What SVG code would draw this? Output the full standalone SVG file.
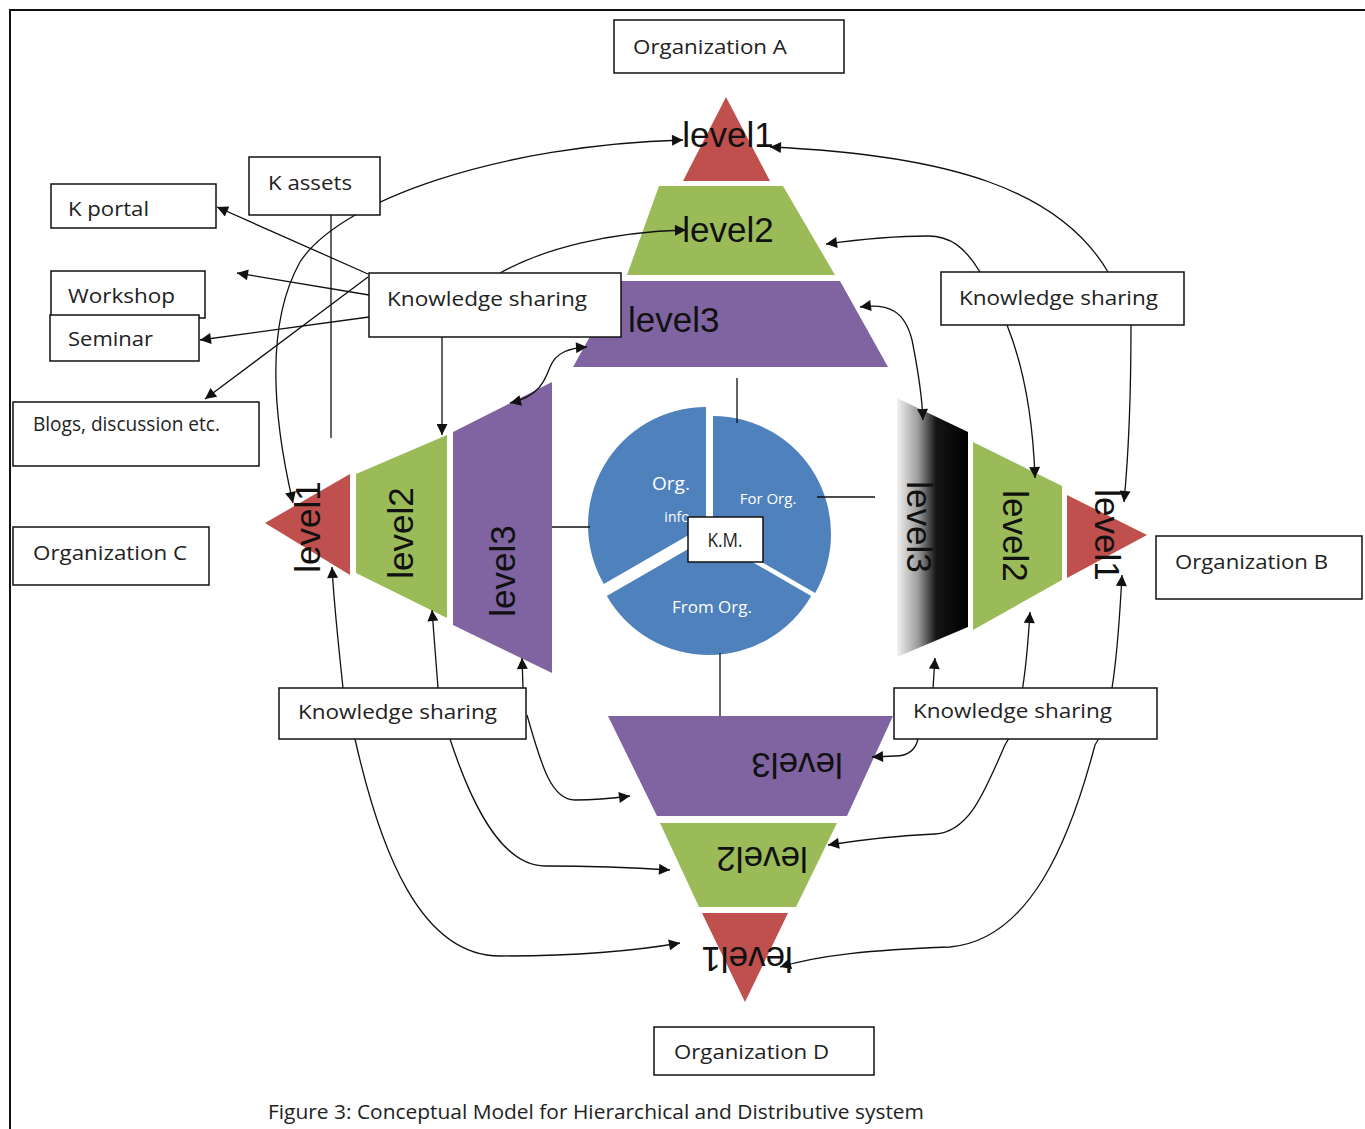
<svg xmlns="http://www.w3.org/2000/svg" width="1365" height="1129" viewBox="0 0 1365 1129">
<defs>
<style>
.box{fill:#fff;stroke:#111;stroke-width:1.5}
.lbl{font-family:"Open Sans","Liberation Sans",sans-serif;font-size:20px;fill:#222}
.lv{font-family:"Liberation Sans",Arial,sans-serif;font-size:35px;fill:#111;text-anchor:middle}
.pie{fill:#4F81BD}
.pt{font-family:"Open Sans","Liberation Sans",sans-serif;fill:#fff;text-anchor:middle}
.c{fill:none;stroke:#111;stroke-width:1.3}
.a{marker-end:url(#ah)}
.b{marker-start:url(#ah);marker-end:url(#ah)}
</style>
<marker id="ah" viewBox="0 0 10 10" refX="10" refY="5" markerWidth="14" markerHeight="11" markerUnits="userSpaceOnUse" orient="auto-start-reverse"><path d="M0,0 L10,5 L0,10 z" fill="#111"/></marker>
<linearGradient id="g3" x1="897" y1="0" x2="968" y2="0" gradientUnits="userSpaceOnUse">
<stop offset="0" stop-color="#f2f2f2"/><stop offset="0.3" stop-color="#9a9a9a"/><stop offset="0.55" stop-color="#151515"/><stop offset="1" stop-color="#000"/>
</linearGradient>
</defs>
<rect width="1365" height="1129" fill="#fff"/>
<path d="M10,1129 L10,10 L1365,10" fill="none" stroke="#111" stroke-width="2"/>

<g id="pyramid-a">
<polygon points="726,97 770,181 683,181" fill="#C0504D"/>
<polygon points="659,186 783,186 835,275 627,275" fill="#9BBB59"/>
<polygon points="621,281 840,281 888,367 573,367" fill="#8064A2"/>
<text class="lv" x="728" y="147">level1</text>
<text class="lv" x="728" y="242">level2</text>
<text class="lv" x="628" y="332" style="text-anchor:start">level3</text>
</g>

<g id="pyramid-c">
<polygon points="265,523 350,474 350,575" fill="#C0504D"/>
<polygon points="356,474 447,435 447,618 356,573" fill="#9BBB59"/>
<polygon points="453,432 552,382 552,673 453,625" fill="#8064A2"/>
<text class="lv" transform="translate(320,527) rotate(-90)">level1</text>
<text class="lv" transform="translate(413,533) rotate(-90)">level2</text>
<text class="lv" transform="translate(515,571) rotate(-90)">level3</text>
</g>

<g id="pyramid-b">
<polygon points="897,398 968,432 968,627 897,657" fill="url(#g3)"/>
<polygon points="973,442 1062,486 1062,580 973,630" fill="#9BBB59"/>
<polygon points="1067,495 1147,535 1067,578" fill="#C0504D"/>
<text class="lv" transform="translate(907,527) rotate(90)">level3</text>
<text class="lv" transform="translate(1003,536) rotate(90)">level2</text>
<text class="lv" transform="translate(1095,535) rotate(90)">level1</text>
</g>

<g id="pyramid-d">
<polygon points="608,716 893,716 847,816 657,816" fill="#8064A2"/>
<polygon points="660,823 837,823 796,907 699,907" fill="#9BBB59"/>
<polygon points="702,913 788,913 745,1002" fill="#C0504D"/>
<text class="lv" transform="translate(797,753) rotate(180)">level3</text>
<text class="lv" transform="translate(762,847) rotate(180)">level2</text>
<text class="lv" transform="translate(747,947) rotate(180)">level1</text>
</g>

<g id="km-pie">
<path class="pie" transform="translate(-3,-6)" d="M709,531 L606.8,590 A118,118 0 0 1 709,413 Z"/>
<path class="pie" transform="translate(4,3)" d="M709,531 L709,413 A118,118 0 0 1 811.2,590 Z"/>
<path class="pie" transform="translate(0,6)" d="M709,531 L811.2,590 A118,118 0 0 1 606.8,590 Z"/>
<text class="pt" x="671" y="490" font-size="19">Org.</text>
<text class="pt" x="677" y="522" font-size="14">info</text>
<text class="pt" x="768" y="504" font-size="15">For Org.</text>
<text class="pt" x="712" y="613" font-size="17">From Org.</text>
</g>

<g id="connectors">
<path class="c" d="M737,378 L737,423"/>
<path class="c" d="M817,497 L875,497"/>
<path class="c" d="M552,527 L590,527"/>
<path class="c" d="M720,653 L720,716"/>
<path class="c a" d="M368,274 L217,207"/>
<path class="c a" d="M369,295 L237,273"/>
<path class="c a" d="M369,317 L200,340"/>
<path class="c a" d="M368,277 L205,399"/>
<path class="c a" d="M500,273 C545,248 610,232 686,230"/>
<path class="c a" d="M442,337 L442,435"/>
<path class="c" d="M331,215 L331,438"/>
<path class="c b" d="M293,503 C276,430 262,330 300,262 C340,200 500,145 683,140"/>
<path class="c b" d="M510,403 C540,396 545,380 550,367 C556,352 570,348 587,347"/>
<path class="c a" d="M980,272 C965,247 950,236 928,236 C890,236 855,240 826,244"/>
<path class="c a" d="M1108,272 C1060,190 950,155 770,147"/>
<path class="c a" d="M1007,325 C1025,370 1033,420 1035,478"/>
<path class="c a" d="M1131,325 C1131,400 1128,460 1124,502"/>
<path class="c b" d="M860,307 C890,303 905,312 912,340 C918,370 922,395 923,420"/>
<path class="c a" d="M343,688 C338,640 334,605 332,567"/>
<path class="c a" d="M438,688 C436,660 434,635 432,610"/>
<path class="c a" d="M523,688 L522,658"/>
<path class="c a" d="M355,739 C380,850 420,956 500,956 C580,956 640,950 680,943"/>
<path class="c a" d="M450,739 C470,800 500,866 545,866 C600,866 640,868 670,870"/>
<path class="c a" d="M527,715 C540,760 550,800 575,800 C600,800 615,798 630,796"/>
<path class="c a" d="M933,688 L935,658"/>
<path class="c a" d="M918,739 C915,752 905,756 895,756 L872,757"/>
<path class="c b" d="M1030,612 C1027,660 1022,720 1005,745 C985,790 970,832 935,834 C890,836 860,840 828,845"/>
<path class="c b" d="M1122,575 C1118,650 1112,720 1095,745 C1070,840 1030,940 950,947 C870,950 820,955 780,967"/>
</g>

<g id="km-box"><rect class="box" x="688" y="517" width="75" height="45"/><text class="lbl" x="725" y="547" font-size="15" text-anchor="middle" textLength="35" lengthAdjust="spacingAndGlyphs">K.M.</text></g>

<g id="org-a"><rect class="box" x="614" y="20" width="230" height="53"/><text class="lbl" x="633" y="54" textLength="154" lengthAdjust="spacingAndGlyphs">Organization A</text></g>
<g id="org-b"><rect class="box" x="1156" y="536" width="206" height="63"/><text class="lbl" x="1175" y="569" textLength="153" lengthAdjust="spacingAndGlyphs">Organization B</text></g>
<g id="org-c"><rect class="box" x="13" y="527" width="196" height="58"/><text class="lbl" x="33" y="560" textLength="154" lengthAdjust="spacingAndGlyphs">Organization C</text></g>
<g id="org-d"><rect class="box" x="654" y="1027" width="220" height="48"/><text class="lbl" x="674" y="1059" textLength="155" lengthAdjust="spacingAndGlyphs">Organization D</text></g>

<g id="k-assets"><rect class="box" x="249" y="157" width="131" height="58"/><text class="lbl" x="268" y="190" textLength="84" lengthAdjust="spacingAndGlyphs">K assets</text></g>
<g id="k-portal"><rect class="box" x="51" y="184" width="165" height="44"/><text class="lbl" x="68" y="216" textLength="81" lengthAdjust="spacingAndGlyphs">K portal</text></g>
<g id="workshop"><rect class="box" x="51" y="271" width="154" height="47"/><text class="lbl" x="68" y="303" textLength="107" lengthAdjust="spacingAndGlyphs">Workshop</text></g>
<g id="seminar"><rect class="box" x="50" y="315" width="149" height="46"/><text class="lbl" x="68" y="346" textLength="85" lengthAdjust="spacingAndGlyphs">Seminar</text></g>
<g id="blogs"><rect class="box" x="13" y="402" width="246" height="64"/><text class="lbl" x="33" y="431" font-size="17" textLength="187" lengthAdjust="spacingAndGlyphs">Blogs, discussion etc.</text></g>

<g id="ks-top-left"><rect class="box" x="369" y="273" width="252" height="64"/><text class="lbl" x="387" y="306" textLength="200" lengthAdjust="spacingAndGlyphs">Knowledge sharing</text></g>
<g id="ks-top-right"><rect class="box" x="941" y="272" width="243" height="53"/><text class="lbl" x="959" y="305" textLength="199" lengthAdjust="spacingAndGlyphs">Knowledge sharing</text></g>
<g id="ks-bottom-left"><rect class="box" x="279" y="688" width="247" height="51"/><text class="lbl" x="298" y="719" textLength="199" lengthAdjust="spacingAndGlyphs">Knowledge sharing</text></g>
<g id="ks-bottom-right"><rect class="box" x="894" y="688" width="263" height="51"/><text class="lbl" x="913" y="718" textLength="199" lengthAdjust="spacingAndGlyphs">Knowledge sharing</text></g>

<text class="lbl" x="268" y="1119" font-size="19" textLength="656" lengthAdjust="spacingAndGlyphs">Figure 3: Conceptual Model for Hierarchical and Distributive system</text>
</svg>
